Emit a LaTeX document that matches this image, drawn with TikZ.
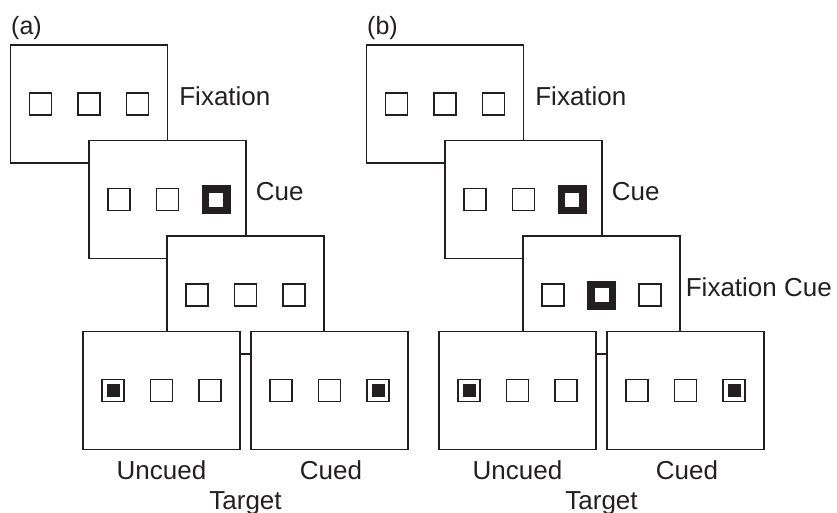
\documentclass[tikz,border=0pt]{standalone}
\usepackage{fontspec}
\setmainfont{Liberation Sans}
\definecolor{ink}{RGB}{35,31,32}
\tikzset{
  screen/.style={draw=ink, fill=white, line width=1.3pt, minimum width=157pt, minimum height=118pt, inner sep=0pt},
  box/.style={draw=ink, line width=1.1pt, minimum size=22pt, inner sep=0pt},
  cuebox/.style={draw=ink, line width=7.5pt, minimum size=21.5pt, inner sep=0pt},
  dot/.style={fill=ink, minimum size=13pt, inner sep=0pt},
  lbl/.style={text=ink, inner sep=0pt, font=\fontsize{26}{30}\selectfont},
}
\begin{document}
\begin{tikzpicture}[x=1pt,y=-1pt]
  \useasboundingbox (0,0) rectangle (837,512);
  \foreach \p/\dx/\mid in {a/0/box,b/356/cuebox}{
    \node[lbl, font=\fontsize{25}{30}\selectfont, anchor=base west] (tag\p) at (11+\dx,34) {(\p)};
    % fixation
    \node[screen] (fix\p) at (89+\dx,104) {};
    \foreach \i/\sx in {1/-48.5,2/0,3/48.5}
      \node[box] (fix\p\i) at ([xshift=\sx pt]fix\p.center) {};
    \node[lbl, anchor=base west] (fixlbl\p) at ([xshift=11pt,yshift=-1pt]fix\p.east) {Fixation};
    % cue
    \node[screen] (cue\p) at (167.5+\dx,199.5) {};
    \node[box] (cue\p1) at ([xshift=-48.5pt]cue\p.center) {};
    \node[box] (cue\p2) at (cue\p.center) {};
    \node[cuebox] (cue\p3) at ([xshift=48.5pt]cue\p.center) {};
    \node[lbl, anchor=base west] (cuelbl\p) at ([xshift=9pt,yshift=-1pt]cue\p.east) {Cue};
    % third screen
    \node[screen] (fc\p) at (245.5+\dx,295) {};
    \node[box] (fc\p1) at ([xshift=-48.5pt]fc\p.center) {};
    \node[\mid] (fc\p2) at (fc\p.center) {};
    \node[box] (fc\p3) at ([xshift=48.5pt]fc\p.center) {};
    % targets
    \node[screen] (tu\p) at (161.5+\dx,390.5) {};
    \node[screen] (tc\p) at (329.5+\dx,390.5) {};
    \foreach \i/\sx in {1/-48.5,2/0,3/48.5}{
      \node[box] (tu\p\i) at ([xshift=\sx pt]tu\p.center) {};
      \node[box] (tc\p\i) at ([xshift=\sx pt]tc\p.center) {};
    }
    \node[dot] (tudot\p) at (tu\p1) {};
    \node[dot] (tcdot\p) at (tc\p3) {};
    \node[lbl, anchor=base] (tulbl\p) at ([yshift=-29.5pt]tu\p.south) {Uncued};
    \node[lbl, anchor=base] (tclbl\p) at ([xshift=1.5pt,yshift=-29.5pt]tc\p.south) {Cued};
    \node[lbl, anchor=base] (tlbl\p) at (245.5+\dx,509) {Target};
  }
  \node[lbl, anchor=base west] (fclblb) at ([xshift=5pt,yshift=-1pt]fcb.east) {Fixation Cue};
\end{tikzpicture}
\end{document}
